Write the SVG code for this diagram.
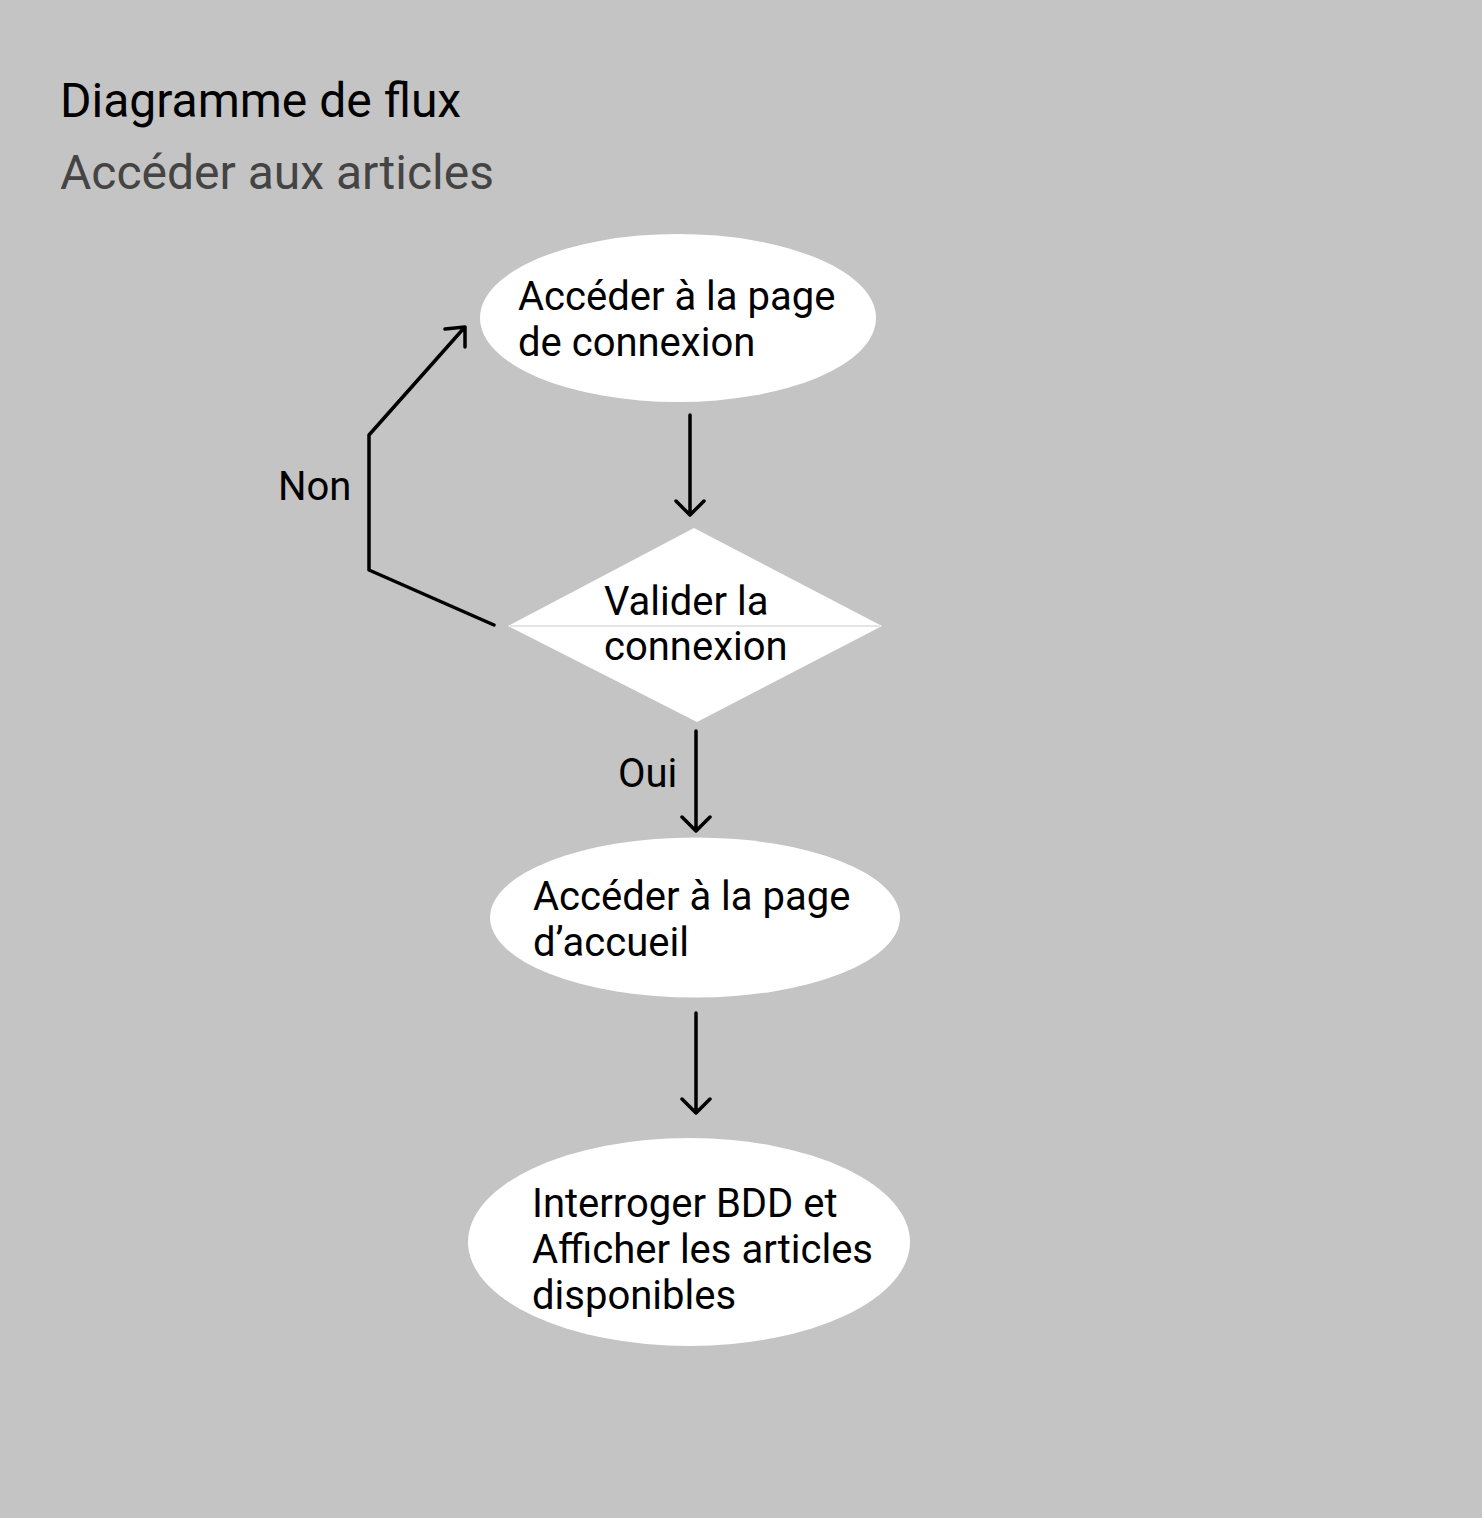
<svg xmlns="http://www.w3.org/2000/svg" width="1482" height="1518" viewBox="0 0 1482 1518">
<style>
text{font-family:Roboto,"Liberation Sans",sans-serif;fill:#000}
.t{font-size:40px}
.title{font-size:48px}
.sub{font-size:48px;fill:#444}
.node{fill:#fff}
.c{fill:none;stroke:#000;stroke-width:3.5;stroke-linecap:round;stroke-linejoin:round}
</style>
<rect width="1482" height="1518" fill="#c4c4c4"/>
<text class="title" x="60" y="117">Diagramme de flux</text>
<text class="sub" x="60" y="189">Accéder aux articles</text>
<g id="n1">
<ellipse class="node" cx="678" cy="318" rx="198" ry="84"/>
<text class="t" x="518" y="310">Accéder à la page</text>
<text class="t" x="518" y="356">de connexion</text>
</g>
<g id="n2">
<polygon class="node" points="694,528 882,626 697,722 508,626"/>
<line x1="510" y1="626" x2="880" y2="626" stroke="#dcdcdc" stroke-width="1.5"/>
<text class="t" x="604" y="615">Valider la</text>
<text class="t" x="604" y="660">connexion</text>
</g>
<g id="n3">
<ellipse class="node" cx="695" cy="917.5" rx="205" ry="80"/>
<text class="t" x="533" y="910">Accéder à la page</text>
<text class="t" x="533" y="956">d’accueil</text>
</g>
<g id="n4">
<ellipse class="node" cx="689" cy="1242" rx="221" ry="104"/>
<text class="t" x="532" y="1217">Interroger BDD et</text>
<text class="t" x="532" y="1263">Afficher les articles</text>
<text class="t" x="532" y="1309">disponibles</text>
</g>
<g id="connectors">
<path class="c" d="M690 415V514M676 501L690 515L704 501"/>
<path class="c" d="M494 625L369 570V435L464 328M445 329L465 327L465 347"/>
<path class="c" d="M696 731V830M682 817L696 831L710 817"/>
<path class="c" d="M696 1013V1112M682 1099L696 1113L710 1099"/>
<text class="t" x="278" y="500">Non</text>
<text class="t" x="618" y="787">Oui</text>
</g>
</svg>
